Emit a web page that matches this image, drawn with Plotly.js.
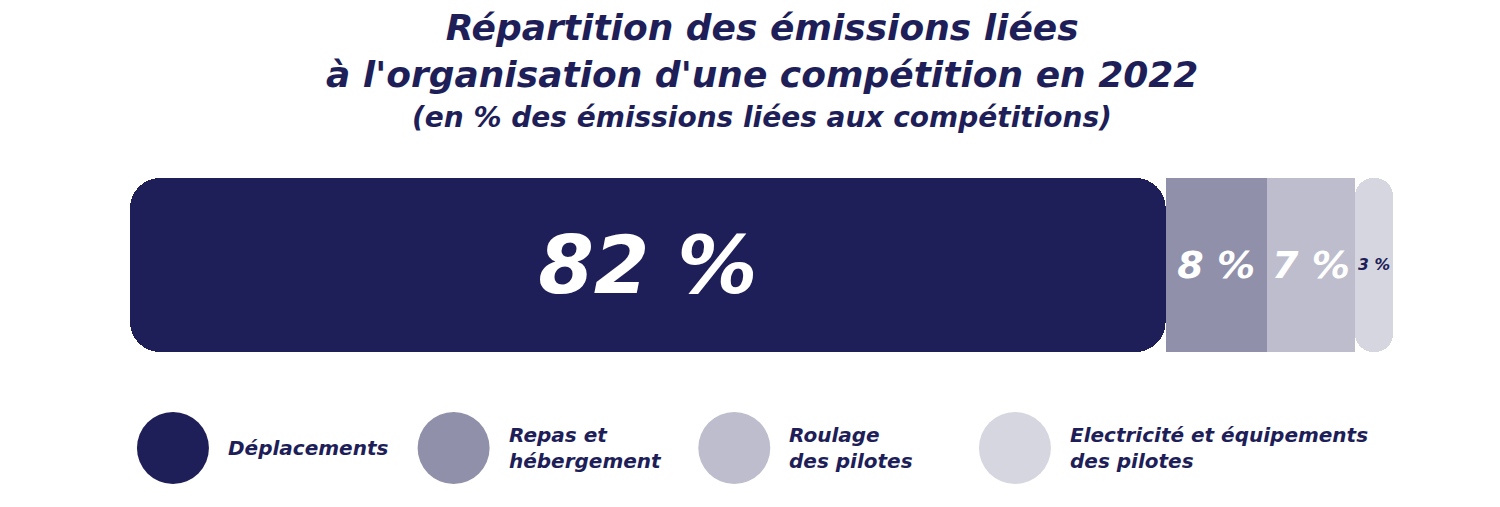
<!DOCTYPE html>
<html>
<head>
<meta charset="utf-8">
<script src="https://cdn.plot.ly/plotly-3.0.1.min.js"></script>
<style>html,body{margin:0;padding:0;background:#fff;}#chart{width:1500px;height:507px;}</style>
</head>
<body>
<div id="chart"></div>
<script>
// ---- data ----
var categories = ["Déplacements", "Repas et hébergement", "Roulage des pilotes", "Electricité et équipements des pilotes"];
var legendLabels = ["Déplacements", "Repas et<br>hébergement", "Roulage<br>des pilotes", "Electricité et équipements<br>des pilotes"];
var shares = [82, 8, 7, 3];
var barLabels = ["82 %", "8 %", "7 %", "3 %"];
var titleMain = "Répartition des émissions liées<br>à l'organisation d'une compétition en 2022";
var titleSub = "(en % des émissions liées aux compétitions)";

// ---- styles ----
var colors = ["#1e1e58", "#9090ab", "#bdbdcd", "#d6d6e0"];
var textColors = ["#ffffff", "#ffffff", "#ffffff", "#1e1e58"];
var textSizes = [80, 38, 38, 21];
var navy = "#1e1e58";
var FONT = "DejaVu Sans, Open Sans, sans-serif";
var W = 1500, H = 507;
function py(px) { return 1 - px / H; }

var traces = [];
var cum = 0;
for (var i = 0; i < shares.length; i++) {
  var start = cum;
  cum += shares[i];
  var first = (i === 0);
  var last = (i === shares.length - 1);
  traces.push({
    type: "bar",
    orientation: "h",
    name: categories[i],
    y: ["bar"],
    // first segment drawn from its far end back to 0 so that its outer (left) end is rounded
    x: first ? [-shares[i]] : [shares[i]],
    base: first ? [cum] : [start],
    marker: { color: colors[i], line: { width: 0 }, cornerradius: (first || last) ? 30 : 0 },
    text: [barLabels[i]],
    textposition: "inside",
    insidetextanchor: "middle",
    constraintext: "none",
    textangle: 0,
    textfont: { family: FONT, size: textSizes[i], color: textColors[i], weight: "bold", style: "italic" },
    hoverinfo: "skip",
    showlegend: false,
    xaxis: "x",
    yaxis: "y"
  });
}

// legend circles
traces.push({
  type: "scatter",
  mode: "markers",
  x: categories.map(function (c, k) { return k; }),
  y: categories.map(function () { return 0; }),
  marker: { size: 72, color: colors, line: { width: 0 } },
  xaxis: "x2",
  yaxis: "y2",
  hoverinfo: "skip",
  showlegend: false,
  cliponaxis: false
});

var annotations = [];
annotations.push({
  text: titleMain,
  xref: "paper", yref: "paper",
  x: 0.5, y: py(51),
  xanchor: "center", yanchor: "middle",
  showarrow: false,
  font: { family: FONT, size: 36, color: navy, weight: "bold", style: "italic" }
});
annotations.push({
  text: titleSub,
  xref: "paper", yref: "paper",
  x: 0.5, y: py(117),
  xanchor: "center", yanchor: "middle",
  showarrow: false,
  font: { family: FONT, size: 28, color: navy, weight: "bold", style: "italic" }
});
for (var k = 0; k < legendLabels.length; k++) {
  annotations.push({
    text: legendLabels[k],
    xref: "x2", yref: "y2",
    x: k, y: 0,
    xanchor: "left", yanchor: "middle",
    xshift: 53,
    align: "left",
    showarrow: false,
    font: { family: FONT, size: 20, color: navy, weight: "bold", style: "italic" }
  });
}

var layout = {
  width: W, height: H,
  margin: { l: 130, r: 107, t: 0, b: 0 },
  paper_bgcolor: "#ffffff",
  plot_bgcolor: "rgba(0,0,0,0)",
  barmode: "overlay",
  bargap: 0,
  showlegend: false,
  xaxis: { range: [0, 100], visible: false, fixedrange: true, domain: [0, 1] },
  yaxis: { visible: false, fixedrange: true, domain: [py(352), py(178)] },
  xaxis2: { range: [-0.153, 4.347], visible: false, fixedrange: true, domain: [0, 1], anchor: "y2" },
  yaxis2: { range: [-1, 1], visible: false, fixedrange: true, domain: [0, 2 * py(448)], anchor: "x2" },
  annotations: annotations
};

Plotly.newPlot("chart", traces, layout, { displayModeBar: false, staticPlot: true });
</script>
</body>
</html>
